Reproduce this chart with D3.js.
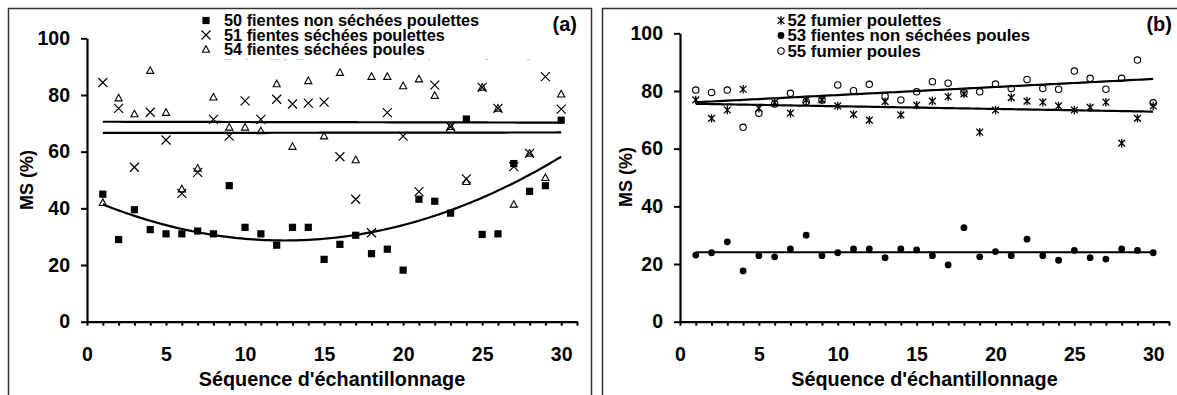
<!DOCTYPE html>
<html><head><meta charset="utf-8">
<script src="https://cdn.jsdelivr.net/npm/d3@7"></script>
<style>
body{margin:0;background:#fff}
text{font-family:"Liberation Sans",Arial,sans-serif;font-weight:bold;fill:#000}
</style>
</head><body>
<svg id="c" width="1177" height="395"></svg>
<script>
// ---------- DATA ----------
const sequence = [1,2,3,4,5,6,7,8,9,10,11,12,13,14,15,16,17,18,19,20,21,22,23,24,25,26,27,28,29,30];
const yTicks = [0,20,40,60,80,100];
const xTickLabels = [0,5,10,15,20,25,30];
const xMinorTicks = [0,1,2,3,4,5,6,7,8,9,10,11,12,13,14,15,16,17,18,19,20,21,22,23,24,25,26,27,28,29,30,31];

// panel (a)
const s50 = [45,29,39.5,32.5,31,31,32,31,48,33.3,31,27,33.3,33.3,22,27.3,30.5,24,25.6,18.2,43.2,42.5,38.3,71.5,30.8,31,55.8,46,48,71.1];
const s51 = [84.4,75.3,54.5,73.9,64.1,45.3,52.7,71.4,65.5,77.9,71.4,78.5,76.8,77.1,77.5,58.2,43.2,31.4,73.8,65.5,45.9,83.5,68.8,50.4,82.7,75.3,54.7,59.4,86.5,75];
const s54 = [42,78.9,73.3,88.6,73.8,46.8,54.1,79.2,68.6,68.6,67.3,83.9,61.8,85,65.5,87.9,57.1,86.5,86.5,83.2,85.6,79.8,68.8,49.4,82.7,75.3,41.4,59.4,50.8,80.3];
const legendA = ["50 fientes non séchées poulettes","51 fientes séchées poulettes","54 fientes séchées poules"];
const legendAHidden = "Poly. (50 fientes non séchées poulettes)";

// panel (b)
const s52 = [76.9,70.5,73.4,80.6,74,76,72.3,76.9,76.9,74.8,71.9,69.9,76.3,71.7,75.1,76.5,78,79,65.7,73.4,77.7,76.5,76.1,74.8,73.4,74.3,76.1,61.9,70.5,74.8];
const s53 = [23.1,23.9,27.7,17.6,22.9,22.5,25.2,30,22.9,23.9,25.2,25.2,22.2,25.2,24.9,22.9,19.7,32.6,22.5,24.3,22.9,28.6,22.9,21.3,24.7,22.2,21.7,25.2,24.7,23.9];
const s55 = [80.3,79.5,80.3,67.4,72.3,75.5,79.2,76.3,76.9,82.1,80.1,82.3,78.2,76.9,79.7,83.2,82.7,79.4,79.7,82.4,80.9,84,80.9,80.6,86.9,84.4,80.6,84.4,90.7,75.9];
const legendB = ["52 fumier poulettes","53 fientes non séchées poules","55 fumier poules"];

const xTitle = "Séquence d'échantillonnage";
const yTitle = "MS (%)";

// ---------- FITS ----------
function linfit(x, y){
  const mx = d3.mean(x), my = d3.mean(y);
  let sxy = 0, sxx = 0;
  x.forEach((v,i)=>{ sxy += (v-mx)*(y[i]-my); sxx += (v-mx)*(v-mx); });
  const b = sxy/sxx, a = my - b*mx;
  return t => a + b*t;
}
function quadfit(x, y){
  const S = [0,0,0,0,0], T = [0,0,0];
  x.forEach((v,i)=>{ for(let k=0;k<5;k++) S[k]+=Math.pow(v,k); for(let k=0;k<3;k++) T[k]+=Math.pow(v,k)*y[i]; });
  const M = [[S[0],S[1],S[2],T[0]],[S[1],S[2],S[3],T[1]],[S[2],S[3],S[4],T[2]]];
  for(let c=0;c<3;c++){
    for(let r=c+1;r<3;r++){ const f=M[r][c]/M[c][c]; for(let k=c;k<4;k++) M[r][k]-=f*M[c][k]; }
  }
  const coef=[0,0,0];
  for(let r=2;r>=0;r--){ let s=M[r][3]; for(let k=r+1;k<3;k++) s-=M[r][k]*coef[k]; coef[r]=s/M[r][r]; }
  return t => coef[0]+coef[1]*t+coef[2]*t*t;
}

// ---------- SYMBOLS ----------
const sym = {
  square: (g,x,y)=>g.append("rect").attr("x",x-3.6).attr("y",y-3.6).attr("width",7.2).attr("height",7.2).attr("fill","#000"),
  cross: (g,x,y)=>g.append("path").attr("d",`M${x-4.5},${y-4.5}L${x+4.5},${y+4.5}M${x-4.5},${y+4.5}L${x+4.5},${y-4.5}`).attr("stroke","#000").attr("stroke-width",1.2).attr("fill","none"),
  triangle: (g,x,y)=>g.append("path").attr("d",`M${x},${y-3.8}L${x+3.6},${y+2.8}L${x-3.6},${y+2.8}Z`).attr("stroke","#000").attr("stroke-width",1.1).attr("fill","none"),
  star: (g,x,y)=>g.append("path").attr("d",`M${x-3.4},${y-3.4}L${x+3.4},${y+3.4}M${x-3.4},${y+3.4}L${x+3.4},${y-3.4}M${x},${y-4.2}L${x},${y+4.2}`).attr("stroke","#000").attr("stroke-width",1.3).attr("fill","none"),
  dot: (g,x,y)=>g.append("circle").attr("cx",x).attr("cy",y).attr("r",3.4).attr("fill","#000"),
  ring: (g,x,y)=>g.append("circle").attr("cx",x).attr("cy",y).attr("r",3.2).attr("fill","none").attr("stroke","#000").attr("stroke-width",1.1)
};

const svg = d3.select("#c");

// panel frames
svg.append("path").attr("d","M8.5,395V8.5H591.5V395").attr("fill","none").attr("stroke","#333").attr("stroke-width",1.5);
svg.append("path").attr("d","M602.5,395V8.5H1177").attr("fill","none").attr("stroke","#333").attr("stroke-width",1.5);

function panel(cfg){
  const x = d3.scaleLinear().domain([0,31]).range(cfg.xr);
  const y = d3.scaleLinear().domain([0,100]).range(cfg.yr);
  const g = svg.append("g");

  // axes
  const ya = g.append("g").attr("transform",`translate(${cfg.xr[0]},0)`)
    .call(d3.axisLeft(y).tickValues(yTicks).tickSize(6).tickSizeOuter(0).tickPadding(11));
  const xa = g.append("g").attr("transform",`translate(0,${cfg.yr[0]})`)
    .call(d3.axisBottom(x).tickValues(xMinorTicks).tickSize(4).tickSizeOuter(0).tickPadding(21)
      .tickFormat(d => xTickLabels.includes(d) ? d : ""));
  [ya,xa].forEach(a=>{
    a.select(".domain").attr("stroke","#000").attr("stroke-width",2.2);
    a.selectAll(".tick line").attr("stroke","#000").attr("stroke-width",2);
    a.selectAll(".tick text").style("font-size","19.5px").style("font-family","'Liberation Sans',Arial,sans-serif").style("font-weight","bold").attr("fill","#000");
  });

  // titles
  g.append("text").attr("x",(cfg.xr[0]+cfg.xr[1])/2).attr("y",386).attr("text-anchor","middle").style("font-size","19.8px").text(xTitle);
  g.append("text").attr("transform",`translate(${cfg.yTitleX},${cfg.yTitleY}) rotate(-90)`).attr("text-anchor","middle").style("font-size","18px").text(yTitle);
  g.append("text").attr("x",cfg.labelX).attr("y",31).attr("text-anchor","end").style("font-size","20px").text(cfg.label);

  // trend lines
  const line = d3.line().x(d=>x(d[0])).y(d=>y(d[1]));
  cfg.fits.forEach(f=>{
    const pts = [];
    for(let t=sequence[0]; t<=sequence[sequence.length-1]+1e-9; t+=0.25) pts.push([t,f(t)]);
    g.append("path").attr("d",line(pts)).attr("fill","none").attr("stroke","#000").attr("stroke-width",2.2);
  });

  // markers
  cfg.series.forEach(s=>{
    s.values.forEach((v,i)=> sym[s.sym](g, x(sequence[i]), y(v)));
  });

  // legend
  cfg.series.forEach((s,i)=>{
    const by = cfg.legBase[i];
    sym[s.sym](g, cfg.legMarkX, by-5.5);
    g.append("text").attr("x",cfg.legTextX).attr("y",by).style("font-size",cfg.legFont).text(s.name);
  });
  if(cfg.hidden){
    const cid = "clipA";
    svg.append("clipPath").attr("id",cid).append("rect").attr("x",0).attr("y",0).attr("width",1177).attr("height",59.3);
    g.append("text").attr("clip-path",`url(#${cid})`).attr("x",cfg.legTextX).attr("y",70.5).style("font-size",cfg.legFont).text(cfg.hidden);
  }
}

panel({
  xr:[87,577], yr:[321.7,38.3],
  yTitleX:33, yTitleY:180, label:"(a)", labelX:577,
  fits:[quadfit(sequence,s50), linfit(sequence,s51), linfit(sequence,s54)],
  series:[{values:s50,sym:"square",name:legendA[0]},{values:s51,sym:"cross",name:legendA[1]},{values:s54,sym:"triangle",name:legendA[2]}],
  legBase:[26,40.5,55], legMarkX:206, legTextX:224, legFont:"16.3px", hidden:legendAHidden
});
panel({
  xr:[680,1169], yr:[321.7,33.3],
  yTitleX:632, yTitleY:177, label:"(b)", labelX:1172,
  fits:[linfit(sequence,s52), linfit(sequence,s53), linfit(sequence,s55)],
  series:[{values:s52,sym:"star",name:legendB[0]},{values:s53,sym:"dot",name:legendB[1]},{values:s55,sym:"ring",name:legendB[2]}],
  legBase:[26,41,56.5], legMarkX:781, legTextX:787.5, legFont:"16.8px"
});
</script>
</body></html>
